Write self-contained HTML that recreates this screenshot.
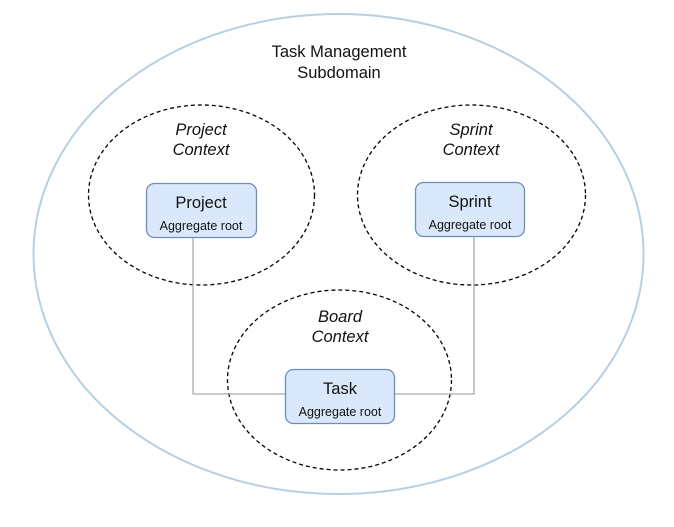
<!DOCTYPE html>
<html><head><style>
html,body{margin:0;padding:0;background:#fff;}
svg{display:block;font-family:"Liberation Sans",Arial,sans-serif;}
</style></head><body>
<svg width="674" height="527" viewBox="0 0 674 527" xmlns="http://www.w3.org/2000/svg">
<ellipse cx="338.5" cy="254" rx="305" ry="240" fill="none" stroke="#b7cfe0" stroke-width="2"/>
<text x="339" y="57" font-size="16.5" text-anchor="middle" fill="#111">Task Management</text>
<text x="339" y="78" font-size="16.5" text-anchor="middle" fill="#111">Subdomain</text>

<ellipse cx="201.5" cy="195" rx="113" ry="90" fill="none" stroke="#000" stroke-width="1.3" stroke-dasharray="4 3"/>
<ellipse cx="471.5" cy="195" rx="114" ry="90" fill="none" stroke="#000" stroke-width="1.3" stroke-dasharray="4 3"/>
<ellipse cx="339.5" cy="380" rx="112" ry="90" fill="none" stroke="#000" stroke-width="1.3" stroke-dasharray="4 3"/>

<g font-size="16.5" font-style="italic" text-anchor="middle" fill="#111">
<text x="201" y="135">Project</text><text x="201" y="155">Context</text>
<text x="471" y="135">Sprint</text><text x="471" y="155">Context</text>
<text x="340" y="322">Board</text><text x="340" y="342">Context</text>
</g>

<polyline points="193,238 193,394 285,394" fill="none" stroke="#aaa" stroke-width="1.3"/>
<polyline points="474,237 474,394 394,394" fill="none" stroke="#aaa" stroke-width="1.3"/>

<g fill="#dae8fc" stroke="#6c8ebf" stroke-width="1.3">
<rect x="146.5" y="183.5" width="110" height="54" rx="8"/>
<rect x="415.5" y="182.5" width="109" height="54" rx="8"/>
<rect x="285.5" y="369.5" width="109" height="54" rx="8"/>
</g>
<g text-anchor="middle" fill="#111">
<text x="201" y="208" font-size="16.5">Project</text><text x="201" y="230" font-size="12.5">Aggregate root</text>
<text x="470" y="207" font-size="16.5">Sprint</text><text x="470" y="229" font-size="12.5">Aggregate root</text>
<text x="340" y="394" font-size="16.5">Task</text><text x="340" y="416" font-size="12.5">Aggregate root</text>
</g>
</svg>
</body></html>
